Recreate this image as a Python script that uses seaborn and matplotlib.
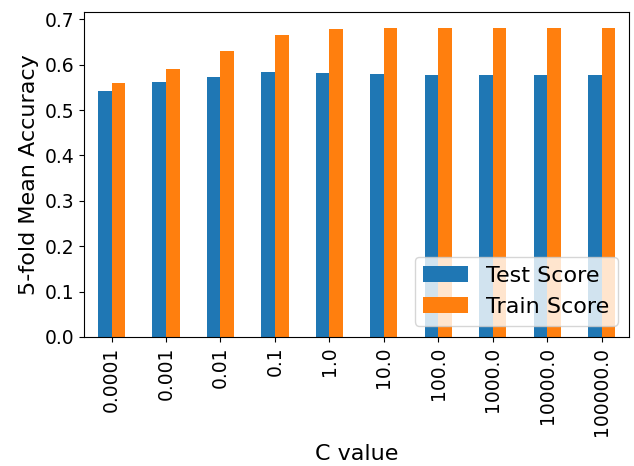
import matplotlib
matplotlib.use("Agg")
import matplotlib.pyplot as plt
import seaborn as sns
import pandas as pd

# ---- Data ----
c_values = ["0.0001", "0.001", "0.01", "0.1", "1.0", "10.0",
            "100.0", "1000.0", "10000.0", "100000.0"]
test_scores = [0.543, 0.561, 0.572, 0.583, 0.581, 0.579, 0.577, 0.577, 0.577, 0.577]
train_scores = [0.559, 0.590, 0.630, 0.666, 0.679, 0.682, 0.682, 0.682, 0.682, 0.682]

df = pd.DataFrame({
    "C": c_values * 2,
    "score": test_scores + train_scores,
    "kind": ["Test Score"] * len(c_values) + ["Train Score"] * len(c_values),
})

fig = plt.figure(figsize=(6.34, 4.66), dpi=100)
ax = fig.add_axes([0.133, 0.277, 0.859, 0.697])

sns.barplot(data=df, x="C", y="score", hue="kind", order=c_values,
            palette=["#1f77b4", "#ff7f0e"], saturation=1, width=0.5,
            ax=ax)

ax.set_xlim(-0.5, len(c_values) - 0.5)
ax.set_ylim(0, max(train_scores) * 1.05)
ax.tick_params(axis="x", labelrotation=90, labelsize=13.5)
ax.tick_params(axis="y", labelsize=13.5)
ax.set_xlabel("C value", fontsize=16, labelpad=6)
ax.set_ylabel("5-fold Mean Accuracy", fontsize=16)
ax.legend(loc="lower right", fontsize=16, title=None)

fig.savefig("out.png", dpi=100)
